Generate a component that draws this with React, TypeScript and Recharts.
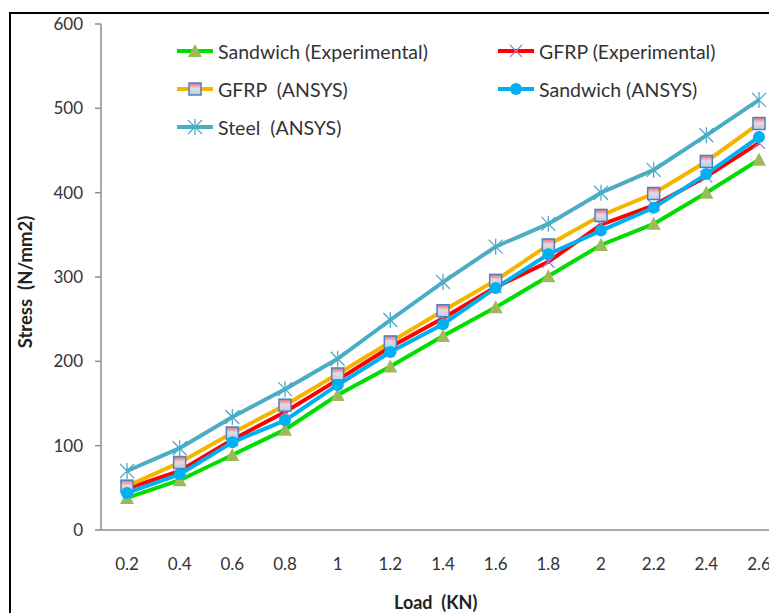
import { LineChart, Line, XAxis, YAxis } from 'recharts'

const loads = ['0.2', '0.4', '0.6', '0.8', '1', '1.2', '1.4', '1.6', '1.8', '2', '2.2', '2.4', '2.6']
const sandwichExp = [38, 59, 89, 119, 160, 194, 230, 264, 301, 338, 363, 400, 439]
const gfrpExp = [49, 70, 107, 140, 178, 217, 251, 288, 318, 362, 385, 419, 459]
const gfrpAnsys = [52, 80, 115, 148, 185, 223, 260, 296, 338, 373, 399, 437, 482]
const sandwichAnsys = [44, 66, 104, 130, 172, 211, 244, 287, 327, 355, 382, 422, 466]
const steelAnsys = [70, 97, 134, 167, 203, 249, 294, 336, 363, 400, 427, 468, 510]
const yTicks = [0, 100, 200, 300, 400, 500, 600]

const data = loads.map((l, i) => ({
  load: l,
  sandwichExp: sandwichExp[i],
  gfrpExp: gfrpExp[i],
  gfrpAnsys: gfrpAnsys[i],
  sandwichAnsys: sandwichAnsys[i],
  steelAnsys: steelAnsys[i],
}))

const FONT = 'Lato, "Open Sans", sans-serif'

function Triangle({ cx, cy }: { cx: number; cy: number }) {
  return <path d={`M${cx},${cy - 7} L${cx + 7},${cy + 6} L${cx - 7},${cy + 6} Z`} fill="#9bbb59" />
}

function Cross({ cx, cy }: { cx: number; cy: number }) {
  const s = 6
  return (
    <path
      d={`M${cx - s},${cy - s} L${cx + s},${cy + s} M${cx - s},${cy + s} L${cx + s},${cy - s}`}
      stroke="#9d82c4"
      strokeWidth={1.3}
    />
  )
}

function Square({ cx, cy, id }: { cx: number; cy: number; id: string }) {
  return (
    <g>
      <defs>
        <linearGradient id={id} x1="0" y1="0" x2="0" y2="1">
          <stop offset="0" stopColor="#e46c6c" />
          <stop offset="0.45" stopColor="#e6d8e6" />
          <stop offset="1" stopColor="#b8cce4" />
        </linearGradient>
      </defs>
      <rect x={cx - 6} y={cy - 6} width={12} height={12} fill={`url(#${id})`} stroke="#4f81bd" strokeWidth={1.5} />
    </g>
  )
}

function Circle({ cx, cy }: { cx: number; cy: number }) {
  return <circle cx={cx} cy={cy} r={6} fill="#00b0f0" />
}

function Star({ cx, cy }: { cx: number; cy: number }) {
  const s = 7
  return (
    <path
      d={`M${cx},${cy - s - 1} L${cx},${cy + s + 1} M${cx - s},${cy - s} L${cx + s},${cy + s} M${cx - s},${cy + s} L${cx + s},${cy - s}`}
      stroke="#4bacc6"
      strokeWidth={1.3}
    />
  )
}

const series = [
  { key: 'sandwichExp', name: 'Sandwich (Experimental)', color: '#00dd00', marker: 'tri' },
  { key: 'gfrpExp', name: 'GFRP (Experimental)', color: '#ff0000', marker: 'cross' },
  { key: 'gfrpAnsys', name: 'GFRP  (ANSYS)', color: '#f5b400', marker: 'square' },
  { key: 'sandwichAnsys', name: 'Sandwich (ANSYS)', color: '#00b0f0', marker: 'circle' },
  { key: 'steelAnsys', name: 'Steel  (ANSYS)', color: '#4bacc6', marker: 'star' },
]

function marker(kind: string, cx: number, cy: number, id: string) {
  if (kind === 'tri') return <Triangle cx={cx} cy={cy} />
  if (kind === 'cross') return <Cross cx={cx} cy={cy} />
  if (kind === 'square') return <Square cx={cx} cy={cy} id={id} />
  if (kind === 'circle') return <Circle cx={cx} cy={cy} />
  return <Star cx={cx} cy={cy} />
}

function LegendItem({ s }: { s: (typeof series)[number] }) {
  return (
    <div style={{ display: 'flex', alignItems: 'center', height: 38 }}>
      <svg width={38} height={20} style={{ marginRight: 4 }}>
        <line x1={1} y1={10} x2={37} y2={10} stroke={s.color} strokeWidth={4} />
        {marker(s.marker, 19, 10, 'lg-' + s.key)}
      </svg>
      <span style={{ whiteSpace: 'pre' }}>{s.name}</span>
    </div>
  )
}

export default function App() {
  return (
    <div style={{ position: 'absolute', left: 0, top: 0, width: 769, height: 613, overflow: 'hidden', background: '#fff', fontFamily: FONT }}>
      <div style={{ position: 'absolute', left: 9, top: 12, width: 830, height: 660, border: '2px solid #000' }} />
      <div style={{ position: 'absolute', left: 0, top: 0 }}>
        <LineChart width={800} height={640} data={data} margin={{ top: 24, right: 15, bottom: 70, left: 0 }}>
          <XAxis
            dataKey="load"
            height={40}
            padding={{ left: 26, right: 26 }}
            tickLine={false}
            tickMargin={22}
            axisLine={{ stroke: '#8c8c8c', strokeWidth: 1.5 }}
            tick={{ fontSize: 17, fill: '#333', fontFamily: FONT }}
            interval={0}
          />
          <YAxis
            width={101}
            domain={[0, 600]}
            ticks={yTicks}
            tickSize={6}
            tickMargin={12}
            axisLine={{ stroke: '#8c8c8c', strokeWidth: 1.5 }}
            tickLine={{ stroke: '#8c8c8c', strokeWidth: 1.5 }}
            tick={{ fontSize: 17, fill: '#333', fontFamily: FONT }}
          />
          {series.map((s) => (
            <Line
              key={s.key}
              dataKey={s.key}
              name={s.name}
              stroke={s.color}
              strokeWidth={4}
              isAnimationActive={false}
              activeDot={false}
              dot={(p: any) => <g key={`${s.key}-${p.index}`}>{marker(s.marker, p.cx, p.cy, `g-${s.key}-${p.index}`)}</g>}
            />
          ))}
        </LineChart>
      </div>
      <div style={{ position: 'absolute', left: 176, top: 32, fontSize: 19.5, color: '#333' }}>
        <LegendItem s={series[0]} />
        <LegendItem s={series[2]} />
        <LegendItem s={series[4]} />
      </div>
      <div style={{ position: 'absolute', left: 497, top: 32, fontSize: 19.5, color: '#333' }}>
        <LegendItem s={series[1]} />
        <LegendItem s={series[3]} />
      </div>
      <div style={{ position: 'absolute', left: 394, top: 591, fontSize: 18, fontWeight: 'bold', color: '#222', whiteSpace: 'pre' }}>
        Load  (KN)
      </div>
      <div
        style={{
          position: 'absolute',
          left: 25,
          top: 282,
          fontSize: 18.5,
          fontWeight: 'bold',
          color: '#222',
          whiteSpace: 'pre',
          transform: 'translate(-50%, -50%) rotate(-90deg)',
        }}
      >
        Stress  (N/mm2)
      </div>
    </div>
  )
}
